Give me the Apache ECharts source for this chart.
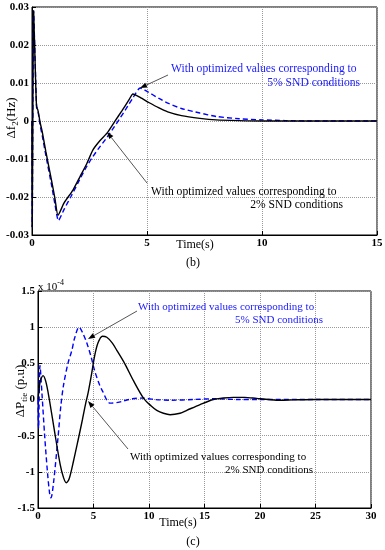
<!DOCTYPE html>
<html><head><meta charset="utf-8">
<script src="https://cdn.jsdelivr.net/npm/echarts@6/dist/echarts.min.js"></script>
<style>html,body{margin:0;padding:0;background:#fff}#c{width:385px;height:550px}</style>
</head><body><div id="c"></div>
<script>
// ---- Panel (b): delta f2 (Hz) ----
const tF2pct = [0,0.01,0.07,0.15,0.2,0.25,0.3,0.35,0.45,0.6,0.87,1.0,1.13,1.4,1.78,2.1,2.39,2.65,2.95,3.26,3.6,3.9,4.2,4.39,4.7,5.1,5.5,5.9,6.5,7.3,8,9,10,12,15];
const fF2pct = [0,-0.028,0.029,0.012,0.0035,0.003,0.0015,-0.0003,-0.003,-0.008,-0.0163,-0.0205,-0.0248,-0.0215,-0.0182,-0.0145,-0.0111,-0.0076,-0.0052,-0.0032,-0.0001,0.0026,0.0054,0.0071,0.0062,0.0048,0.0035,0.0024,0.0014,0.0007,0.0003,0.0001,0,0,0];
const tF5pct = [0,0.01,0.07,0.15,0.2,0.25,0.3,0.35,0.45,0.6,0.87,1.0,1.15,1.4,1.7,2.0,2.3,2.6,2.9,3.2,3.5,3.8,4.1,4.4,4.7,5.0,5.5,5.9,6.5,7.3,8,9,10,11,12,15];
const fF5pct = [0,-0.028,0.029,0.013,0.004,0.003,0.001,-0.001,-0.004,-0.009,-0.0175,-0.022,-0.0262,-0.0232,-0.0198,-0.0163,-0.0128,-0.0098,-0.0072,-0.0048,-0.0022,0.0005,0.0033,0.0062,0.0087,0.0078,0.006,0.0047,0.0033,0.0021,0.0012,0.0006,0.0003,0.0001,0,0];
const xTicksB = [0,5,10,15];
const yTicksB = [-0.03,-0.02,-0.01,0,0.01,0.02,0.03];

// ---- Panel (c): delta P tie (p.u, x1e-4) ----
const tP2pct = [0,0.2,0.45,0.7,1.0,1.5,2.0,2.3,2.55,2.8,3.2,3.6,4.0,4.3,4.5,4.8,5.1,5.4,5.8,6.2,6.7,7.1,7.8,8.6,9.5,10.2,10.7,11.3,11.9,12.8,13.4,14.6,15.8,16.7,17.6,18.6,19.7,20.8,21.8,23,25,27,30];
const pP2pct = [0,0.25,0.33,0.25,0.02,-0.45,-0.9,-1.08,-1.15,-1.1,-0.85,-0.57,-0.28,-0.05,0.08,0.33,0.6,0.78,0.875,0.86,0.78,0.68,0.5,0.26,0.02,-0.09,-0.15,-0.19,-0.21,-0.19,-0.15,-0.07,0,0.02,0.03,0.03,0.015,0,-0.01,-0.005,0,0,0];
const tP5pct = [0,0.05,0.18,0.35,0.6,0.85,1.05,1.17,1.4,1.8,2.05,2.3,2.7,3.05,3.3,3.7,4.0,4.4,4.8,5.1,5.5,5.8,6.5,7.2,7.7,8.5,9.5,10.5,12,14,16,18,20,25,30];
const pP5pct = [0,-0.4,0.47,0.1,-0.5,-1.0,-1.3,-1.36,-1.15,-0.53,-0.1,0.2,0.5,0.68,0.85,1.0,0.93,0.78,0.58,0.4,0.22,0.12,-0.05,-0.04,-0.02,0.01,0.02,0,-0.01,0,0.01,0,0,0,0];
const xTicksC = [0,5,10,15,20,25,30];
const yTicksC = [-1.5,-1,-0.5,0,0.5,1,1.5];

const zip = (t, v) => t.map((x, i) => [x, v[i]]);
const serif = 'Liberation Serif';
const fmt = v => String(Math.round(v * 1000) / 1000);
const axisLabel = {fontFamily: serif, fontSize: 11, fontWeight: 'bold', color: '#000', margin: 3, formatter: fmt};
const split = {show: true, lineStyle: {type: 'dotted', color: '#999', width: 1}};

function xAxis(idx, ticks) {
  return {type: 'value', gridIndex: idx, min: ticks[0], max: ticks[ticks.length-1], interval: ticks[1]-ticks[0],
    axisLine: {show: true, onZero: false, lineStyle: {color: '#000'}}, axisTick: {show: true, inside: true, length: 4, lineStyle: {color: '#000'}},
    axisLabel: axisLabel, splitLine: split};
}
function yAxis(idx, ticks) {
  return {type: 'value', gridIndex: idx, min: ticks[0], max: ticks[ticks.length-1], interval: ticks[1]-ticks[0],
    axisLine: {show: true, onZero: false, lineStyle: {color: '#000'}}, axisTick: {show: true, inside: true, length: 4, lineStyle: {color: '#000'}},
    axisLabel: axisLabel, splitLine: split};
}

const solid = {color: '#000', width: 1.4, type: 'solid'};
const dashed = {color: '#0000ff', width: 1.4, type: [5, 3]};

const chart = echarts.init(document.getElementById('c'), null, {renderer: 'canvas'});
chart.setOption({
  backgroundColor: '#fff',
  animation: false,
  grid: [
    {left: 32, top: 7, width: 345, height: 228, show: true, borderColor: '#000', borderWidth: 1, containLabel: false, outerBoundsMode: 'none'},
    {left: 38, top: 291, width: 333, height: 217, show: true, borderColor: '#000', borderWidth: 1, containLabel: false, outerBoundsMode: 'none'}
  ],
  xAxis: [xAxis(0, xTicksB), xAxis(1, xTicksC)],
  yAxis: [yAxis(0, yTicksB), yAxis(1, yTicksC)],
  series: [
    {type: 'line', xAxisIndex: 0, yAxisIndex: 0, data: zip(tF2pct, fF2pct), showSymbol: false, smooth: 0.2, lineStyle: solid, z: 3},
    {type: 'line', xAxisIndex: 0, yAxisIndex: 0, data: zip(tF5pct, fF5pct), showSymbol: false, smooth: 0.2, lineStyle: dashed, z: 2},
    {type: 'line', xAxisIndex: 1, yAxisIndex: 1, data: zip(tP2pct, pP2pct), showSymbol: false, smooth: 0.3, lineStyle: solid, z: 3},
    {type: 'line', xAxisIndex: 1, yAxisIndex: 1, data: zip(tP5pct, pP5pct), showSymbol: false, smooth: 0.3, lineStyle: dashed, z: 2}
  ]
});

function arrow(x1, y1, x2, y2) {
  const a = Math.atan2(y2 - y1, x2 - x1), L = 7, W = 2.6;
  const bx = x2 - L * Math.cos(a), by = y2 - L * Math.sin(a);
  const px = -Math.sin(a) * W, py = Math.cos(a) * W;
  return [
    {type: 'line', shape: {x1: x1, y1: y1, x2: bx, y2: by}, style: {stroke: '#555', lineWidth: 1}, z: 10},
    {type: 'polygon', shape: {points: [[x2, y2], [bx + px, by + py], [bx - px, by - py]]}, style: {fill: '#000'}, z: 10}
  ];
}
function txt(x, y, s, color, align, size) {
  return {type: 'text', x: x, y: y, style: {text: s, fill: color, font: size + 'px "Liberation Serif"', textAlign: align, textVerticalAlign: 'middle'}, z: 11};
}
const richName = {
  a: {fontFamily: serif, fontSize: 13, fill: '#000', color: '#000', lineHeight: 16, verticalAlign: 'middle'},
  s: {fontFamily: serif, fontSize: 9, fill: '#000', color: '#000', lineHeight: 16, verticalAlign: 'bottom'}
};
function yName(x, y, s) {
  return {type: 'text', x: x, y: y, rotation: Math.PI / 2,
    style: {text: s, rich: richName, textAlign: 'center', textVerticalAlign: 'middle', align: 'center', verticalAlign: 'middle'}, z: 11};
}
const blue = '#1a1aff';
const L1 = 'With optimized values corresponding to';
chart.setOption({graphic: [
  ...arrow(168, 75, 140, 88),
  ...arrow(147, 183, 107, 132),
  ...arrow(137, 311, 88, 339),
  ...arrow(128, 449, 88, 401),
  txt(171, 69, L1, blue, 'left', 11.6),
  txt(360, 83, '5% SND conditions', blue, 'right', 11.6),
  txt(151, 192, L1, '#000', 'left', 11.6),
  txt(343, 205, '2% SND conditions', '#000', 'right', 11.6),
  txt(138, 307, L1, blue, 'left', 11),
  txt(323, 320, '5% SND conditions', blue, 'right', 11),
  txt(130, 457, L1, '#000', 'left', 11),
  txt(313, 470, '2% SND conditions', '#000', 'right', 11),
  txt(195, 245, 'Time(s)', '#000', 'center', 12),
  txt(193, 263, '(b)', '#000', 'center', 12),
  txt(178, 523, 'Time(s)', '#000', 'center', 12),
  txt(193, 542, '(c)', '#000', 'center', 12),
  yName(12, 118, '{a|Δf}{s|2}{a|(Hz)}'),
  yName(21, 391, '{a|ΔP}{s|tie}{a| (p.u)}'),
  {type: 'text', x: 38, y: 279, style: {text: '{a|x 10}{b|-4}', rich: {
    a: {fontFamily: serif, fontSize: 11, fill: '#000', color: '#000', lineHeight: 14, verticalAlign: 'bottom'},
    b: {fontFamily: serif, fontSize: 8, fill: '#000', color: '#000', lineHeight: 14, verticalAlign: 'top'}
  }}, z: 11}
]});
</script></body></html>
